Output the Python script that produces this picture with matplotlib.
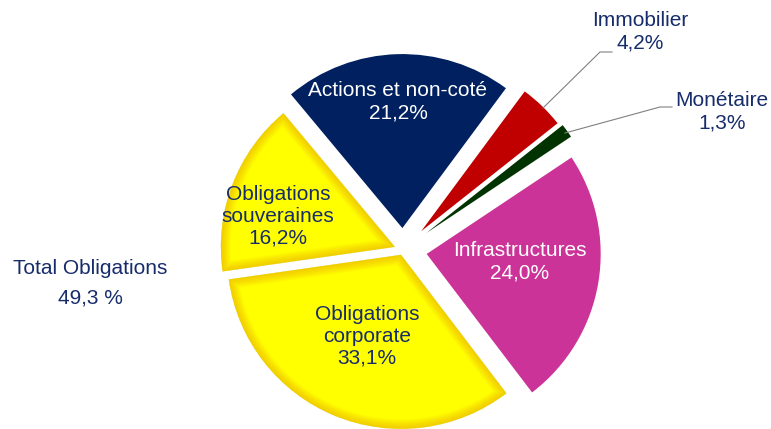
import matplotlib
matplotlib.use("Agg")
import matplotlib.pyplot as plt
from matplotlib.patches import Wedge

plt.rcParams['font.family'] = ['Liberation Sans', 'DejaVu Sans']

categories = ["Actions et non-coté", "Immobilier", "Monétaire", "Infrastructures",
              "Obligations\ncorporate", "Obligations\nsouveraines"]
values = [21.2, 4.2, 1.3, 24.0, 33.1, 16.2]
value_labels = ["21,2%", "4,2%", "1,3%", "24,0%", "33,1%", "16,2%"]
total_label = "Total Obligations"
total_value = "49,3 %"

colors = ["#002060", "#C00000", "#003300", "#CC3399", "#FFFF00", "#FFFF00"]
explode_frac = [0.126, 0.15, 0.165, 0.138, 0.03, 0.05]

W, H = 771, 429
fig = plt.figure(figsize=(W / 100, H / 100), dpi=100)
ax = fig.add_axes([0, 0, 1, 1])

cx, cy, R = 403, H - 250, 174
explode = [e * R for e in explode_frac]
wedges, _ = ax.pie(values, colors=colors, startangle=129.8, counterclock=False,
                   explode=explode, center=(cx, cy), radius=R,
                   wedgeprops=dict(linewidth=0))

# inner orange glow on yellow slices
for w in wedges[4:]:
    for lw in range(14, 0, -1):
        g = Wedge(w.center, w.r, w.theta1, w.theta2, facecolor='none',
                  edgecolor='#EBA000', linewidth=lw, alpha=0.045)
        ax.add_patch(g)
        g.set_clip_path(w)

ax.set_xlim(0, W)
ax.set_ylim(0, H)
ax.set_aspect('equal')
ax.axis('off')

navy = '#172C6B'
fs = 15
ls = 1.2

def py(y):
    return H - y

ax.text(398, py(102), f"{categories[0]}\n{value_labels[0]}", color='white',
        fontsize=fs, ha='center', va='center', linespacing=ls)
ax.text(520, py(262), f"{categories[3]}\n{value_labels[3]}", color='white',
        fontsize=fs, ha='center', va='center', linespacing=ls)
ax.text(367, py(336), f"{categories[4]}\n{value_labels[4]}", color=navy,
        fontsize=fs, ha='center', va='center', linespacing=ls)
ax.text(278, py(216), f"{categories[5]}\n{value_labels[5]}", color=navy,
        fontsize=fs, ha='center', va='center', linespacing=ls)
ax.text(640, py(32), f"{categories[1]}\n{value_labels[1]}", color=navy,
        fontsize=fs, ha='center', va='center', linespacing=ls)
ax.text(722, py(112), f"{categories[2]}\n{value_labels[2]}", color=navy,
        fontsize=fs, ha='center', va='center', linespacing=ls)
ax.text(90, py(268), total_label, color=navy, fontsize=fs, ha='center', va='center')
ax.text(90, py(298), total_value, color=navy, fontsize=fs, ha='center', va='center')

# leader lines
ax.plot([543, 600, 612], [py(108), py(52), py(52)], color='#808080', lw=0.8)
ax.plot([565, 660, 672], [py(133), py(107), py(107)], color='#808080', lw=0.8)

fig.savefig("out.png", dpi=100)
